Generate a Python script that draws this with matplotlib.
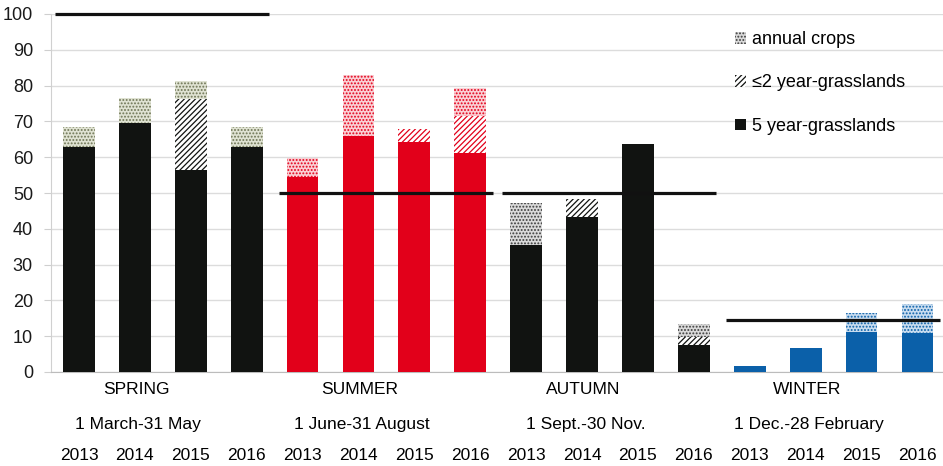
import matplotlib
matplotlib.use("Agg")
import matplotlib.pyplot as plt
from matplotlib.patches import Patch
from matplotlib.transforms import blended_transform_factory

plt.rcParams['font.family'] = ['Liberation Sans', 'DejaVu Sans']
plt.rcParams['hatch.linewidth'] = 0.9

# data (percent)
seasons = ["SPRING", "SUMMER", "AUTUMN", "WINTER"]
periods = ["1 March-31 May", "1 June-31 August", "1 Sept.-30 Nov.", "1 Dec.-28 February"]
years = ["2013", "2014", "2015", "2016"]
five_year = [62.8, 69.5, 56.5, 62.8, 54.5, 65.8, 64.2, 61.3,
             35.5, 43.3, 63.6, 7.6, 1.7, 6.6, 11.3, 11.0]
two_year = [0, 0, 19.8, 0, 0, 0, 3.7, 10.1,
            0, 5.1, 0, 2.3, 0, 0, 0, 0]
annual = [5.6, 7.1, 5.1, 5.6, 5.3, 17.3, 0, 8.0,
          11.6, 0, 0, 3.4, 0, 0, 5.1, 8.0]
reference = [100, 50, 50, 14.6]

# per season: solid colour, hatch colour for <=2yr, (face, dots) for annual crops
solid = ['#111311', '#e2001a', '#111311', '#0b60a9']
stripe = ['#111311', '#e2001a', '#111311', '#0b60a9']
ann_face = ['#dfe2d2', '#fad0d5', '#d9d9d9', '#c8dcef']
ann_dot = ['#6e7454', '#e2001a', '#3a3a3a', '#0b60a9']

fig = plt.figure(figsize=(9.43, 4.66), dpi=100)
ax = fig.add_axes([51/943, 1-372/466, 1-51/943, (372-14)/466])

w = 0.57
for i in range(16):
    g = i // 4
    ax.bar(i, five_year[i], w, color=solid[g], linewidth=0, zorder=3)
    if two_year[i] > 0:
        ax.bar(i, two_year[i], w, bottom=five_year[i], facecolor='white',
               edgecolor=stripe[g], hatch='//////', linewidth=0, zorder=3)
    if annual[i] > 0:
        ax.bar(i, annual[i], w, bottom=five_year[i] + two_year[i], facecolor=ann_face[g],
               edgecolor=ann_dot[g], hatch='.....', linewidth=0, zorder=3)

for g in range(4):
    ax.plot([g*4 - 0.43, g*4 + 3.4], [reference[g]] * 2, color='#111111', lw=2.3,
            solid_capstyle='butt', zorder=4, clip_on=False)

ax.set_xlim(-0.5, -0.5 + 892/55.9)
ax.set_ylim(0, 100)
ax.set_yticks(range(0, 101, 10))
ax.set_xticks([])
ax.tick_params(axis='y', labelsize=13, length=5, color='#cfcfcf', pad=8, labelcolor='#1a1a1a')
ax.yaxis.grid(True, color='#dcdcdc', lw=1, zorder=0)
for s in ['top', 'right']:
    ax.spines[s].set_visible(False)
ax.spines['left'].set_color('#d0d0d0')
ax.spines['bottom'].set_color('#bcbcbc')

tr = blended_transform_factory(ax.transData, fig.transFigure)
for g in range(4):
    ax.text(g*4 + 1.02, 1 - 390/466, seasons[g], transform=tr, ha='center', va='center',
            fontsize=12.5)
    ax.text(g*4 + 1.06, 1 - 425/466, periods[g], transform=tr, ha='center', va='center',
            fontsize=12.5)
for i in range(16):
    ax.text(i, 1 - 456/466, years[i % 4], transform=tr, ha='center', va='center', fontsize=12.5)

handles = [Patch(facecolor='#d9d9d9', edgecolor='#3a3a3a', hatch='.....', linewidth=0),
           Patch(facecolor='white', edgecolor='#111311', hatch='//////', linewidth=0),
           Patch(facecolor='#111311', linewidth=0)]
ax.legend(handles, ["annual crops", "\u22642 year-grasslands", "5 year-grasslands"],
          loc='upper left', bbox_to_anchor=(719/943, 1 - 15/466), bbox_transform=fig.transFigure,
          frameon=False, fontsize=13, handlelength=0.6, handleheight=0.6,
          handletextpad=0.3, labelspacing=1.45)

fig.savefig("out.png", dpi=100)
